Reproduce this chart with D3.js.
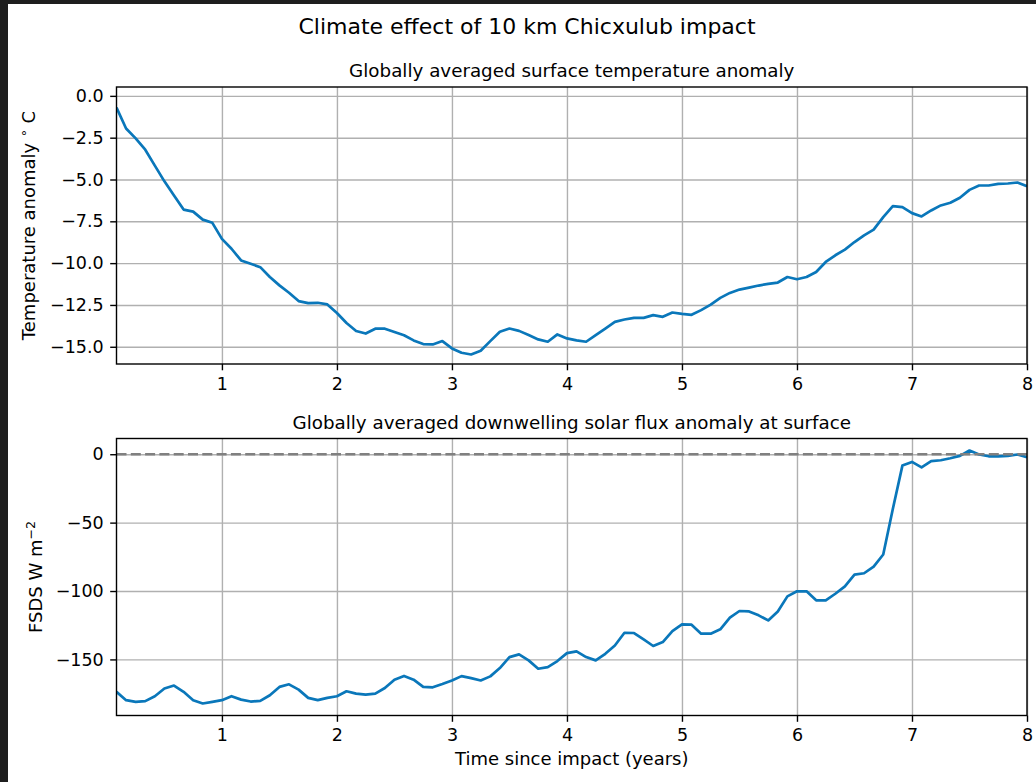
<!DOCTYPE html>
<html>
<head>
<meta charset="utf-8">
<title>Climate effect of 10 km Chicxulub impact</title>
<script src="https://cdn.jsdelivr.net/npm/d3@7"></script>
<style>
  body { margin: 0; background: #1e1e1e; }
  text { font-family: "DejaVu Sans", sans-serif; fill: #000; }
</style>
</head>
<body>
<div id="chart"></div>
<script>

// monthly model output, months after impact
var months = [ 1, 2, 3, 4, 5, 6, 7, 8, 9,10,11,12,
              13,14,15,16,17,18,19,20,21,22,23,24,
              25,26,27,28,29,30,31,32,33,34,35,36,
              37,38,39,40,41,42,43,44,45,46,47,48,
              49,50,51,52,53,54,55,56,57,58,59,60,
              61,62,63,64,65,66,67,68,69,70,71,72,
              73,74,75,76,77,78,79,80,81,82,83,84,
              85,86,87,88,89,90,91,92,93,94,95,96];

// global mean surface temperature anomaly (deg C)
var tempAnom = [
  -0.70, -1.95, -2.54, -3.22, -4.17, -5.11, -5.96, -6.80, -6.92, -7.40,
  -7.59, -8.55, -9.14, -9.84, -10.04, -10.24, -10.83, -11.33, -11.77, -12.27,
  -12.39, -12.37, -12.47, -12.98, -13.58, -14.06, -14.21, -13.92, -13.92, -14.12,
  -14.31, -14.62, -14.84, -14.86, -14.66, -15.10, -15.36, -15.46, -15.24, -14.66,
  -14.10, -13.91, -14.05, -14.30, -14.56, -14.70, -14.26, -14.50, -14.62, -14.70,
  -14.30, -13.91, -13.51, -13.37, -13.27, -13.27, -13.11, -13.21, -12.95, -13.03,
  -13.09, -12.81, -12.48, -12.08, -11.78, -11.58, -11.46, -11.34, -11.24, -11.16,
  -10.83, -10.96, -10.83, -10.53, -9.93, -9.53, -9.19, -8.74, -8.34, -8.00,
  -7.25, -6.59, -6.65, -7.01, -7.21, -6.85, -6.55, -6.39, -6.09, -5.62,
  -5.36, -5.36, -5.26, -5.24, -5.18, -5.40];

// global mean downwelling solar flux anomaly at surface (W m-2)
var fsdsAnom = [
  -173.7, -179.8, -181.0, -180.5, -176.9, -171.3, -169.1, -173.7, -179.8, -182.2,
  -181.0, -179.8, -176.9, -179.4, -180.8, -180.3, -176.2, -170.1, -168.2, -172.1,
  -178.1, -179.8, -178.1, -176.9, -173.3, -175.0, -175.7, -175.0, -170.9, -164.8,
  -162.1, -164.8, -170.1, -170.4, -168.0, -165.4, -162.2, -163.7, -165.4, -162.4,
  -156.3, -148.3, -146.3, -150.7, -156.8, -155.6, -151.2, -145.4, -144.1, -148.3,
  -150.7, -145.9, -139.8, -130.5, -130.7, -135.4, -140.2, -137.3, -129.3, -124.4,
  -124.6, -131.2, -131.2, -128.0, -119.5, -114.6, -114.9, -117.8, -121.5, -114.9,
  -103.9, -100.2, -100.2, -106.8, -106.8, -102.0, -96.6, -88.0, -87.0, -82.1,
  -73.3, -40.0, -8.3, -5.6, -9.6, -5.1, -4.4, -2.9, -1.2, 2.7,
  -0.2, -1.5, -1.5, -1.2, -0.2, -2.2];

var xTicks = [1, 2, 3, 4, 5, 6, 7, 8];
var tempTicks = [0, -2.5, -5, -7.5, -10, -12.5, -15];
var fsdsTicks = [0, -50, -100, -150];

var width = 1036, height = 782;
var left = 116.5, right = 1027;
var blue = "#0a77ba";

var svg = d3.select("#chart").append("svg")
    .attr("width", width)
    .attr("height", height);

svg.append("rect")
    .attr("x", 8).attr("y", 4)
    .attr("width", width - 8).attr("height", height - 4)
    .attr("fill", "#fff");

var x = d3.scaleLinear().domain([1 / 12, 8]).range([left, right]);

function minus(fmt) {
  var f = d3.format(fmt);
  return d => f(d).replace("-", "\u2212");
}

function panel(p) {
  var y = d3.scaleLinear().domain(p.ydomain).range([p.bottom, p.top]);
  var h = p.bottom - p.top;
  var g = svg.append("g");

  // grid
  g.append("g")
    .attr("transform", "translate(0," + p.bottom + ")")
    .call(d3.axisBottom(x).tickValues(xTicks).tickSize(-h).tickFormat(""))
    .call(s => s.select(".domain").remove())
    .selectAll("line").attr("stroke", "#b0b0b0").attr("stroke-width", 1.4);
  g.append("g")
    .attr("transform", "translate(" + left + ",0)")
    .call(d3.axisLeft(y).tickValues(p.ticks).tickSize(-(right - left)).tickFormat(""))
    .call(s => s.select(".domain").remove())
    .selectAll("line").attr("stroke", "#b0b0b0").attr("stroke-width", 1.4);

  var clipId = "clip" + Math.round(p.top);
  svg.append("clipPath").attr("id", clipId)
    .append("rect").attr("x", left).attr("y", p.top)
    .attr("width", right - left).attr("height", h);

  var line = d3.line()
    .x((d, i) => x(months[i] / 12))
    .y(d => y(d));

  g.append("path")
    .datum(p.values)
    .attr("clip-path", "url(#" + clipId + ")")
    .attr("fill", "none")
    .attr("stroke", blue)
    .attr("stroke-width", 2.7)
    .attr("stroke-linejoin", "round")
    .attr("d", line);

  if (p.zeroLine) {
    g.append("line")
      .attr("x1", left).attr("x2", right)
      .attr("y1", y(0)).attr("y2", y(0))
      .attr("stroke", "#808080")
      .attr("stroke-width", 2.4)
      .attr("stroke-dasharray", "10,4.3");
  }

  // axes with ticks
  var ax = g.append("g")
    .attr("transform", "translate(0," + p.bottom + ")")
    .call(d3.axisBottom(x).tickValues(xTicks).tickSize(6.3).tickPadding(7).tickFormat(d3.format("d")));
  var ay = g.append("g")
    .attr("transform", "translate(" + left + ",0)")
    .call(d3.axisLeft(y).tickValues(p.ticks).tickSize(6.3).tickPadding(6.5).tickFormat(minus(p.fmt)));
  [ax, ay].forEach(function(a) {
    a.select(".domain").remove();
    a.selectAll("line").attr("stroke", "#000").attr("stroke-width", 1.4);
    a.selectAll("text")
      .attr("font-family", "DejaVu Sans")
      .attr("font-size", 17.5)
      .attr("fill", "#000");
  });

  // frame
  g.append("rect")
    .attr("x", left).attr("y", p.top)
    .attr("width", right - left).attr("height", h)
    .attr("fill", "none")
    .attr("stroke", "#000")
    .attr("stroke-width", 1.4);

  g.append("text")
    .attr("x", (left + right) / 2)
    .attr("y", p.top - 10)
    .attr("text-anchor", "middle")
    .attr("font-size", 18.3)
    .text(p.title);

  return g;
}

panel({
  top: 87, bottom: 364,
  ydomain: [-16.03, 0.53],
  ticks: tempTicks, fmt: ".1f",
  values: tempAnom,
  title: "Globally averaged surface temperature anomaly"
});

panel({
  top: 438.5, bottom: 715.5,
  ydomain: [-191, 11.5],
  ticks: fsdsTicks, fmt: "d",
  values: fsdsAnom,
  zeroLine: true,
  title: "Globally averaged downwelling solar flux anomaly at surface"
});

svg.append("text")
  .attr("x", 527).attr("y", 34)
  .attr("text-anchor", "middle")
  .attr("font-size", 22)
  .text("Climate effect of 10 km Chicxulub impact");

svg.append("text")
  .attr("x", (left + right) / 2).attr("y", 765)
  .attr("text-anchor", "middle")
  .attr("font-size", 18)
  .text("Time since impact (years)");

var yl1 = svg.append("text")
  .attr("transform", "translate(35," + (87 + 364) / 2 + ") rotate(-90)")
  .attr("text-anchor", "middle")
  .attr("font-size", 18);
yl1.append("tspan").text("Temperature anomaly ");
yl1.append("tspan").attr("dy", -7).attr("font-size", 12.6).text("\u2218");
yl1.append("tspan").attr("dy", 7).text(" C");

var yl2 = svg.append("text")
  .attr("transform", "translate(41.5," + (438.5 + 715.5) / 2 + ") rotate(-90)")
  .attr("text-anchor", "middle")
  .attr("font-size", 18);
yl2.append("tspan").text("FSDS W m");
yl2.append("tspan").attr("dy", -7).attr("font-size", 12.6).text("\u22122");

</script>
</body>
</html>
